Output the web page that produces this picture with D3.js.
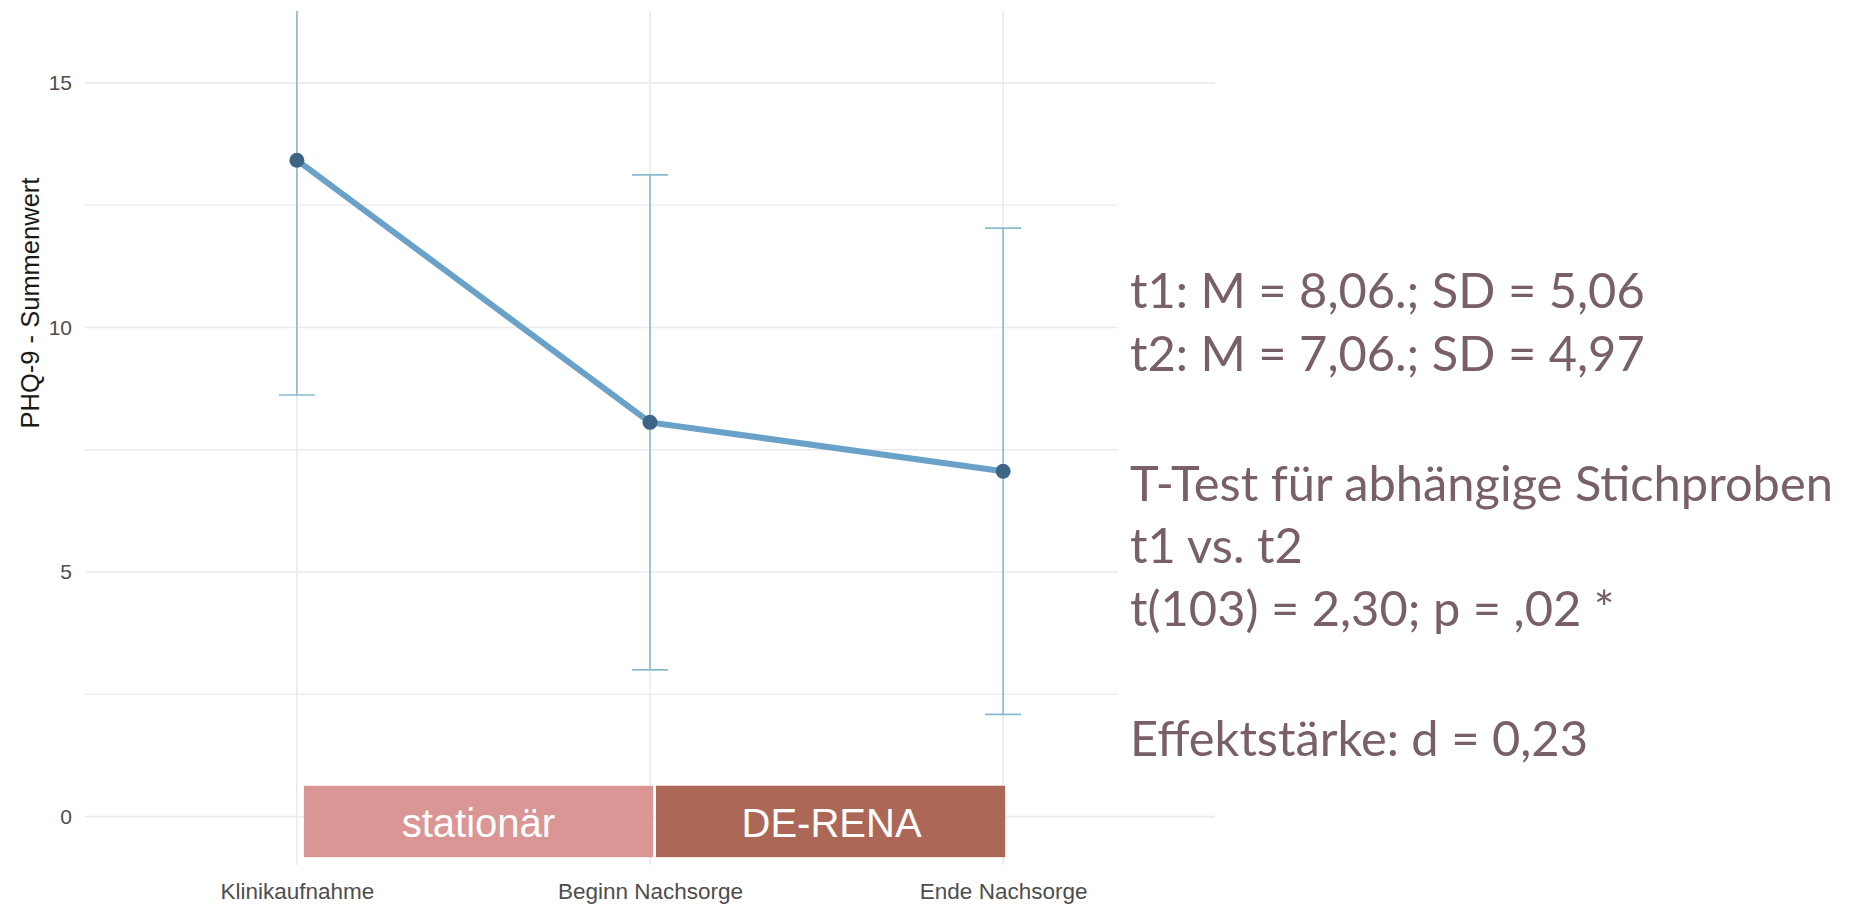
<!DOCTYPE html>
<html>
<head>
<meta charset="utf-8">
<script src="https://cdn.jsdelivr.net/npm/d3@7"></script>
<style>
  html, body { margin: 0; padding: 0; background: #fff; }
  svg { display: block; }
</style>
</head>
<body>
<svg id="chart" width="1849" height="904"></svg>
<script>
// data
var categories = ["Klinikaufnahme", "Beginn Nachsorge", "Ende Nachsorge"];
var means = [13.42, 8.06, 7.06];
var sds = [4.80, 5.06, 4.97];
var yMajor = [0, 5, 10, 15];
var yMinor = [2.5, 7.5, 12.5];
var phaseLabels = ["stationär", "DE-RENA"];
var phaseFrom = [0, 1];
var phaseTo = [1, 2];
var phaseColors = ["#d99694", "#ad6757"];
var statLines = [
  "t1: M = 8,06.; SD = 5,06",
  "t2: M = 7,06.; SD = 4,97",
  "",
  "T-Test für abhängige Stichproben",
  "t1 vs. t2",
  "t(103) = 2,30; p = ,02 *",
  "",
  "Effektstärke: d = 0,23"
];

var svg = d3.select("#chart"),
    panel = {left: 85, right: 1215, top: 11, bottom: 865};

var x = d3.scalePoint()
    .domain(categories)
    .range([panel.left, panel.right])
    .padding(0.6);

var y = d3.scaleLinear()
    .domain([-0.99, 16.47])
    .range([panel.bottom, panel.top]);

svg.append("defs").append("clipPath")
    .attr("id", "panel-clip")
  .append("rect")
    .attr("x", panel.left)
    .attr("y", panel.top)
    .attr("width", panel.right - panel.left)
    .attr("height", panel.bottom - panel.top);

/* grid */
var grid = svg.append("g").attr("stroke", "#ebebeb");

grid.selectAll(".hgrid")
  .data(yMajor.concat(yMinor))
  .enter().append("line")
    .attr("class", "hgrid")
    .attr("x1", panel.left)
    .attr("x2", panel.right)
    .attr("y1", function(d){ return y(d); })
    .attr("y2", function(d){ return y(d); })
    .attr("stroke-width", function(d){ return yMajor.indexOf(d) >= 0 ? 1.6 : 1.3; });

grid.selectAll(".vgrid")
  .data(categories)
  .enter().append("line")
    .attr("class", "vgrid")
    .attr("x1", function(d){ return x(d); })
    .attr("x2", function(d){ return x(d); })
    .attr("y1", panel.top)
    .attr("y2", panel.bottom)
    .attr("stroke-width", 1.6);

/* axes */
var yAxis = svg.append("g")
    .attr("transform", "translate(" + panel.left + ",0)")
    .call(d3.axisLeft(y).tickValues(yMajor).tickSize(0).tickPadding(13));
yAxis.select(".domain").remove();
yAxis.selectAll("text")
    .attr("fill", "#4d4d4d")
    .style("font-family", "'Liberation Sans', Arial, sans-serif")
    .style("font-size", "21px");

var xAxis = svg.append("g")
    .attr("transform", "translate(0," + panel.bottom + ")")
    .call(d3.axisBottom(x).tickSize(0).tickPadding(18));
xAxis.select(".domain").remove();
xAxis.selectAll("text")
    .attr("fill", "#4d4d4d")
    .style("font-family", "'Liberation Sans', Arial, sans-serif")
    .style("font-size", "22.5px");

svg.append("text")
    .attr("transform", "translate(39,303) rotate(-90)")
    .attr("text-anchor", "middle")
    .attr("fill", "#1a1a1a")
    .style("font-family", "'Liberation Sans', Arial, sans-serif")
    .style("font-size", "25.5px")
    .text("PHQ-9 - Summenwert");

/* error bars, line, points */
var plot = svg.append("g").attr("clip-path", "url(#panel-clip)");
var capHalf = 18;

var bars = plot.selectAll(".errbar")
  .data(categories)
  .enter().append("g")
    .attr("class", "errbar")
    .attr("stroke", "#88bacd")
    .attr("stroke-width", 1.6);

bars.append("line")
    .attr("x1", function(d){ return x(d); })
    .attr("x2", function(d){ return x(d); })
    .attr("y1", function(d, i){ return y(means[i] - sds[i]); })
    .attr("y2", function(d, i){ return y(means[i] + sds[i]); });

bars.append("line")
    .attr("x1", function(d){ return x(d) - capHalf; })
    .attr("x2", function(d){ return x(d) + capHalf; })
    .attr("y1", function(d, i){ return y(means[i] - sds[i]); })
    .attr("y2", function(d, i){ return y(means[i] - sds[i]); });

bars.append("line")
    .attr("x1", function(d){ return x(d) - capHalf; })
    .attr("x2", function(d){ return x(d) + capHalf; })
    .attr("y1", function(d, i){ return y(means[i] + sds[i]); })
    .attr("y2", function(d, i){ return y(means[i] + sds[i]); });

var line = d3.line()
    .x(function(d, i){ return x(categories[i]); })
    .y(function(d){ return y(d); });

plot.append("path")
    .datum(means)
    .attr("d", line)
    .attr("fill", "none")
    .attr("stroke", "#6aa1c8")
    .attr("stroke-width", 6);

plot.selectAll(".pt")
  .data(means)
  .enter().append("circle")
    .attr("class", "pt")
    .attr("cx", function(d, i){ return x(categories[i]); })
    .attr("cy", function(d){ return y(d); })
    .attr("r", 7.5)
    .attr("fill", "#3e6586");

/* phase boxes */
var phase = svg.selectAll(".phase")
  .data(phaseLabels)
  .enter().append("g")
    .attr("class", "phase");

phase.append("rect")
    .attr("x", function(d, i){ return x(categories[phaseFrom[i]]) + (i == 0 ? 7 : 6); })
    .attr("width", function(d, i){
      return x(categories[phaseTo[i]]) - x(categories[phaseFrom[i]]) - (i == 0 ? 4 : 4);
    })
    .attr("y", y(0.63))
    .attr("height", y(-0.83) - y(0.63))
    .attr("fill", function(d, i){ return phaseColors[i]; });

phase.append("text")
    .attr("x", function(d, i){ return (x(categories[phaseFrom[i]]) + x(categories[phaseTo[i]])) / 2 + 5; })
    .attr("y", 837)
    .attr("text-anchor", "middle")
    .attr("fill", "#fff")
    .style("font-family", "'Liberation Sans', Arial, sans-serif")
    .style("font-size", "40px")
    .text(function(d){ return d; });

/* statistics text box */
svg.append("rect")
    .attr("x", 1118)
    .attr("y", 195)
    .attr("width", 1849 - 1118)
    .attr("height", 595)
    .attr("fill", "#fff");

var stats = svg.append("g")
    .style("font-family", "Lato, 'Open Sans', sans-serif")
    .attr("fill", "#786066");

// fit the longest line to its width in the picture
var probe = stats.append("text").style("font-size", "48px").text(statLines[3]);
var fs = 48 * 703 / probe.node().getComputedTextLength();
probe.remove();

var yy = 308;
statLines.forEach(function(s, i){
  if (i > 0) yy += (s === "" || statLines[i - 1] === "") ? 65 : 62.5;
  if (s === "") return;
  stats.append("text")
      .attr("x", 1130)
      .attr("y", yy)
      .style("font-size", fs + "px")
      .text(s);
});
</script>
</body>
</html>
